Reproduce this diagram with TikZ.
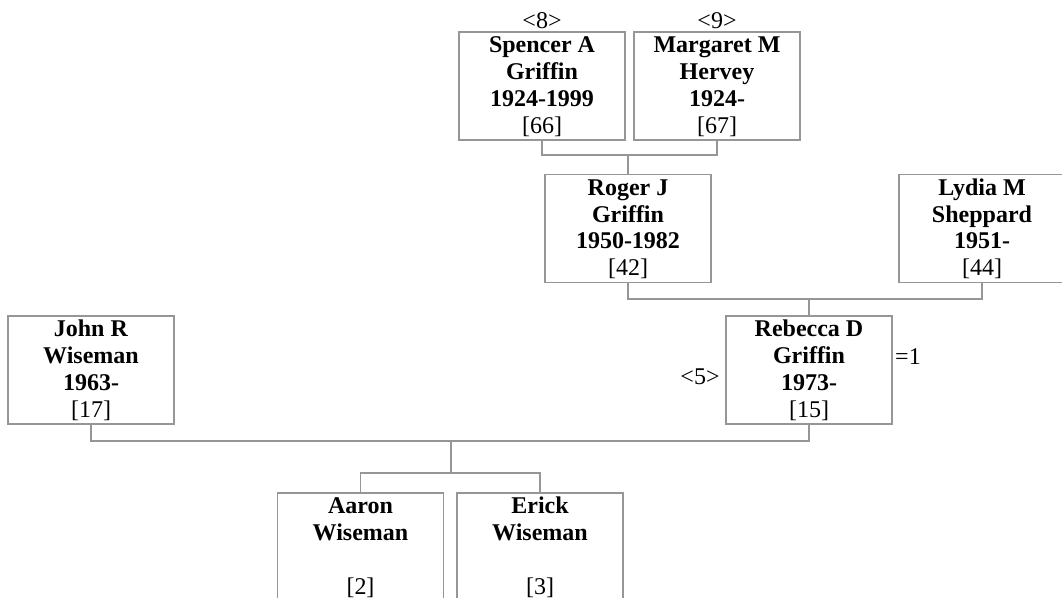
\documentclass[tikz,border=0pt]{standalone}
\usepackage{fontspec}
\setmainfont{Liberation Serif}
\usepackage{tikz}

\definecolor{linegray}{RGB}{150,150,150}
\newcommand{\pcard}[4]{\textbf{#1}\rule{0pt}{10.5pt}\\\textbf{#2}\strut\\\textbf{#3}\strut\\{[#4]}\rule[-3.5pt]{0pt}{3.5pt}}

\begin{document}
\begin{tikzpicture}[x=0.5pt,y=-0.5pt]
    \tikzstyle{person} = [draw=linegray,line width=0.7pt,fill=white,minimum width=83pt,minimum height=54pt,inner sep=0pt,align=center,font=\fontsize{12}{13.35}\selectfont]
    \tikzstyle{link} = [draw=linegray,line width=0.7pt]
    \tikzstyle{tag} = [inner sep=0pt,font=\fontsize{12}{13.35}\selectfont]
    \path[use as bounding box,clip] (0,0) rectangle (1062,598);

    % grandparents
    \node[person] (n66) at (542,86) {\pcard{Spencer A}{Griffin}{1924-1999}{66}};
    \node[person] (n67) at (717,86) {\pcard{Margaret M}{Hervey}{1924-}{67}};
    \node[tag] (t8) at (542,21) {<8>};
    \node[tag] (t9) at (717,21) {<9>};

    % parents
    \node[person] (n42) at (628,228.5) {\pcard{Roger J}{Griffin}{1950-1982}{42}};
    \node[person] (n44) at (982,228.5) {\pcard{Lydia M}{Sheppard}{1951-}{44}};

    \node[person] (n17) at (91,370) {\pcard{John R}{Wiseman}{1963-}{17}};
    \node[person] (n15) at (809,370) {\pcard{Rebecca D}{Griffin}{1973-}{15}};
    \node[tag] (t5) at (700,377) {<5>};
    \node[tag] (t1) at (908,357) {=1};

    % children
    \node[person] (n2) at (360.5,547) {\pcard{Aaron}{Wiseman}{}{2}};
    \node[person] (n3) at (540,547) {\pcard{Erick}{Wiseman}{}{3}};

    \coordinate (m1) at (628,155);
    \coordinate (m2) at (809,299);
    \coordinate (m3) at (451,441);
    \coordinate (m4) at (451,473);

    \draw[link] (n66.south) |- (m1) -| (n67.south);
    \draw[link] (m1) -- (n42.north);
    \draw[link] (n42.south) |- (m2) -| (n44.south);
    \draw[link] (m2) -- (n15.north);
    \draw[link] (n17.south) |- (m3) -| (n15.south);
    \draw[link] (m3) -- (m4);
    \draw[link] (n2.north) |- (m4) -| (n3.north);
\end{tikzpicture}
\end{document}
